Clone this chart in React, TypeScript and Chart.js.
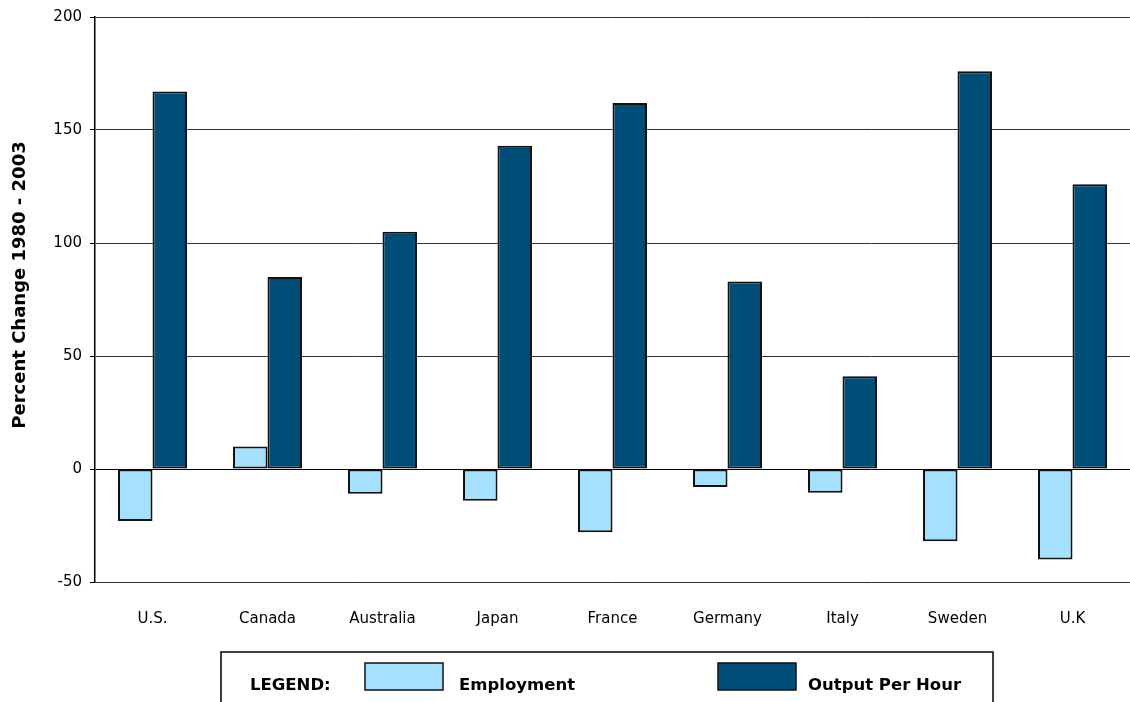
import React, { useEffect, useRef } from "react";
import { Chart, registerables } from "chart.js";

Chart.register(...registerables);

// Percent change 1980 - 2003, by country
const countries = ["U.S.", "Canada", "Australia", "Japan", "France", "Germany", "Italy", "Sweden", "U.K"];
const employment = [-23, 10, -11, -14, -28, -8, -10.5, -32, -40];
const outputPerHour = [167, 85, 105, 143, 162, 83, 41, 176, 126];
const seriesNames = ["Employment", "Output Per Hour"];
const seriesColors = ["#a6e0ff", "#004e78"];
const yTitle = "Percent Change 1980 - 2003";
const legendTitle = "LEGEND:";

const FONT = "'DejaVu Sans', 'Liberation Sans', sans-serif";

// Rotated y-axis caption
const yTitlePlugin = {
  id: "yTitle",
  afterDraw(chart: any) {
    const ctx = chart.ctx;
    ctx.save();
    ctx.translate(20, 285);
    ctx.rotate(-Math.PI / 2);
    ctx.font = `bold 18px ${FONT}`;
    ctx.fillStyle = "#000";
    ctx.textAlign = "center";
    ctx.textBaseline = "middle";
    ctx.fillText(yTitle, 0, 0);
    ctx.restore();
  },
};

// Boxed legend below the plot
const boxLegendPlugin = {
  id: "boxLegend",
  afterDraw(chart: any) {
    const ctx = chart.ctx;
    const ds = chart.data.datasets;
    ctx.save();
    ctx.lineWidth = 1.5;
    ctx.strokeStyle = "#000";
    ctx.strokeRect(221, 652, 772, 70);

    ctx.font = `bold 16.5px ${FONT}`;
    ctx.fillStyle = "#000";
    ctx.textAlign = "left";
    ctx.textBaseline = "alphabetic";
    ctx.fillText(legendTitle, 250, 690);

    const items = [
      { sx: 365, tx: 459 },
      { sx: 718, tx: 808 },
    ];
    items.forEach((it, i) => {
      ctx.fillStyle = ds[i].backgroundColor;
      ctx.fillRect(it.sx, 663, 78, 27);
      ctx.lineWidth = 1.5;
      ctx.strokeStyle = "#111";
      ctx.strokeRect(it.sx, 663, 78, 27);
      ctx.fillStyle = "#000";
      ctx.fillText(ds[i].label, it.tx, 690);
    });
    ctx.restore();
  },
};

export default function App() {
  const canvasRef = useRef<HTMLCanvasElement | null>(null);

  useEffect(() => {
    if (!canvasRef.current) return;
    const chart = new Chart(canvasRef.current, {
      type: "bar",
      data: {
        labels: countries,
        datasets: [
          {
            label: seriesNames[0],
            data: employment,
            backgroundColor: seriesColors[0],
            borderColor: "#111",
            borderWidth: 2,
            borderSkipped: false,
            categoryPercentage: 0.6,
            barPercentage: 1.0,
          },
          {
            label: seriesNames[1],
            data: outputPerHour,
            backgroundColor: seriesColors[1],
            borderColor: "#111",
            borderWidth: 2,
            borderSkipped: false,
            categoryPercentage: 0.6,
            barPercentage: 1.0,
          },
        ],
      },
      options: {
        animation: false,
        responsive: true,
        maintainAspectRatio: false,
        layout: { padding: { top: 16, right: 0, bottom: 0, left: 0 } },
        plugins: {
          legend: { display: false },
          tooltip: { enabled: false },
        },
        scales: {
          x: {
            grid: { display: false, drawTicks: false },
            border: { display: false },
            ticks: {
              color: "#000",
              font: { family: FONT, size: 15 },
              padding: 28,
            },
            afterFit: (s: any) => {
              s.height = 120;
            },
          },
          y: {
            min: -50,
            max: 200,
            ticks: {
              stepSize: 50,
              color: "#000",
              font: { family: FONT, size: 15 },
              padding: 8,
            },
            grid: {
              color: (c: any) => (c.tick && c.tick.value === 0 ? "#000" : "#333"),
              lineWidth: 1,
              tickLength: 5,
              tickColor: "#000",
            },
            border: { display: true, color: "#000", width: 1.5 },
            afterFit: (s: any) => {
              s.width = 95;
            },
          },
        },
      },
      plugins: [yTitlePlugin, boxLegendPlugin],
    });
    return () => chart.destroy();
  }, []);

  return (
    <div style={{ position: "fixed", left: 0, top: 0, width: 1130, height: 702, background: "#fff" }}>
      <canvas ref={canvasRef} />
    </div>
  );
}
